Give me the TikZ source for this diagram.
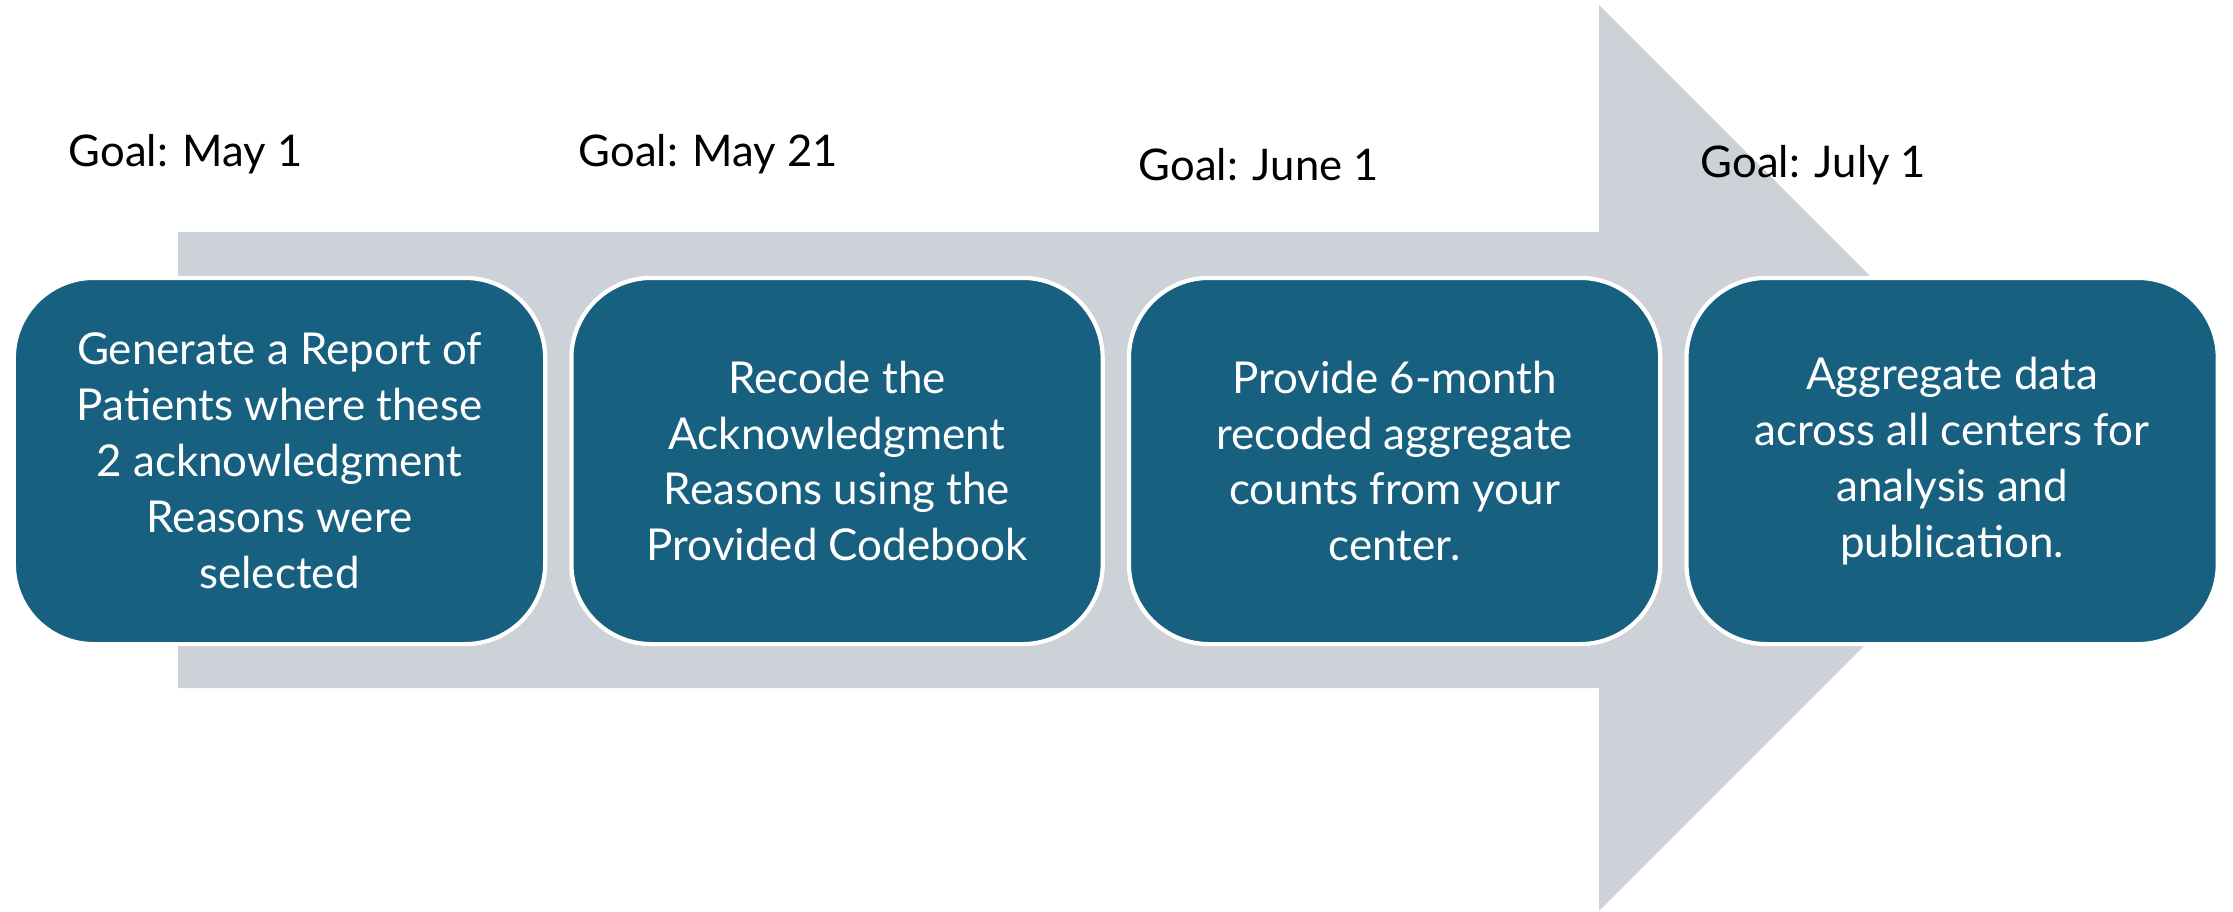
\documentclass[tikz,border=0pt]{standalone}
\usepackage{fontspec}
\setmainfont{Lato}
\usetikzlibrary{positioning}
\definecolor{stepblue}{RGB}{24,96,128}
\definecolor{arrowgray}{RGB}{205,210,217}

\begin{document}
\begin{tikzpicture}[x=0.01cm, y=-0.01cm]
		\tikzstyle{stage}=[rectangle, rounded corners=8mm, fill=stepblue, draw=white, line width=1.2pt, minimum width=5.31cm, minimum height=3.66cm, text=white, align=center, font=\fontsize{12.5}{15.9}\selectfont, node distance=2.2mm]
		\tikzstyle{goal}=[anchor=west, inner sep=0pt, font=\fontsize{12.4}{15}\selectfont]
		\useasboundingbox (0,0) rectangle (2233,912);
		% big arrow behind the steps
		\fill[arrowgray] (178,232) -- (1599,232) -- (1599,5) -- (2052,458) -- (1599,911) -- (1599,688) -- (178,688) -- cycle;
		\node[stage] (report) at (279.5,461) {Generate a Report of\\Patients where these\\2 acknowledgment\\Reasons were\\selected};
		\node[stage] (recode) [right =of report] {Recode the\\Acknowledgment\\Reasons using the\\Provided Codebook};
		\node[stage] (counts) [right =of recode] {Provide 6-month\\recoded aggregate\\counts from your\\center.};
		\node[stage] (aggregate) [right =of counts] {Aggregate data\\across all centers for\\analysis and\\publication.};
		\node[goal] (may1) at (68,154) {Goal: May 1};
		\node[goal] (may21) at (578,154) {Goal: May 21};
		\node[goal] (june1) at (1138,165) {Goal: June 1};
		\node[goal] (july1) at (1700,165) {Goal: July 1};
	\end{tikzpicture}
\end{document}
